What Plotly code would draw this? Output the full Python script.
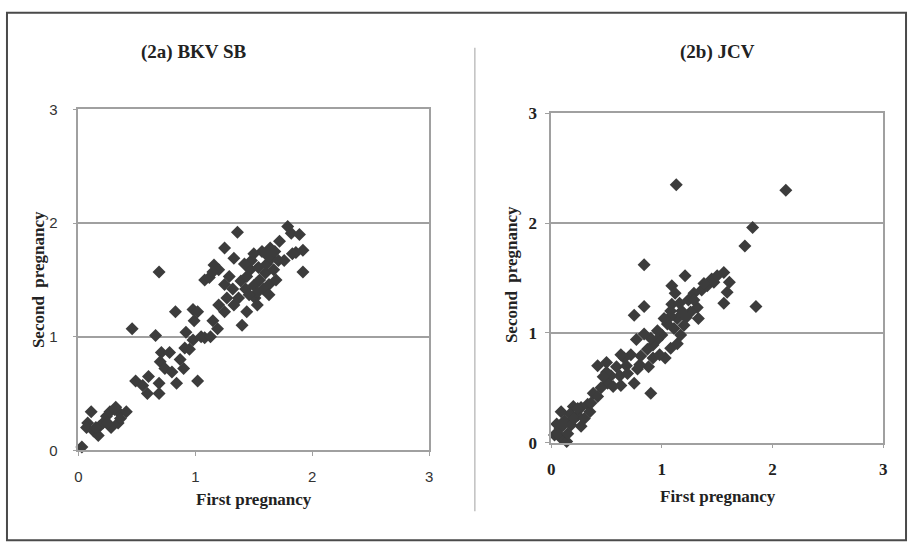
import plotly.graph_objects as go

# (2a) BKV SB
bkv_first = [0.03, 0.11, 0.08, 0.07, 0.13, 0.17, 0.18, 0.21, 0.24, 0.27, 0.31, 0.35, 0.41, 0.34, 0.28, 0.36, 0.25, 0.15, 0.32,
             0.46, 0.49, 0.55, 0.59, 0.60, 0.69, 0.69, 0.66, 0.69, 0.71, 0.70, 0.74, 0.78, 0.80, 0.84, 0.83, 0.87, 0.90, 0.91,
             0.92, 0.95, 0.98, 0.99, 0.98, 1.02, 1.02, 1.05, 1.08, 1.13, 1.15, 1.19, 1.08, 1.12, 1.16, 1.20, 1.25, 1.25, 1.20,
             1.25, 1.27, 1.29, 1.32, 1.33, 1.36, 1.33, 1.37, 1.40, 1.39, 1.43, 1.44, 1.44, 1.47, 1.48, 1.50, 1.51, 1.53, 1.54,
             1.55, 1.57, 1.58, 1.60, 1.61, 1.63, 1.64, 1.65, 1.67, 1.68, 1.69, 1.71, 1.72, 1.76, 1.79, 1.82, 1.86, 1.89, 1.92,
             1.92, 1.83, 1.53, 1.63, 1.46, 1.15, 1.50, 1.61, 1.42]
bkv_second = [0.03, 0.34, 0.24, 0.20, 0.17, 0.13, 0.21, 0.24, 0.30, 0.34, 0.36, 0.33, 0.34, 0.24, 0.20, 0.28, 0.24, 0.20, 0.38,
              1.07, 0.61, 0.57, 0.50, 0.65, 0.59, 0.50, 1.01, 1.57, 0.86, 0.78, 0.72, 0.86, 0.69, 0.59, 1.22, 0.80, 0.72, 0.90,
              1.04, 0.89, 0.97, 1.14, 1.24, 0.61, 1.22, 1.00, 0.99, 1.00, 1.14, 1.07, 1.50, 1.52, 1.63, 1.59, 1.78, 1.46, 1.28,
              1.22, 1.34, 1.53, 1.42, 1.69, 1.92, 1.28, 1.34, 1.10, 1.49, 1.42, 1.22, 1.53, 1.59, 1.67, 1.45, 1.34, 1.28, 1.61,
              1.50, 1.75, 1.42, 1.56, 1.64, 1.46, 1.78, 1.69, 1.59, 1.75, 1.50, 1.67, 1.84, 1.67, 1.97, 1.91, 1.74, 1.90, 1.76,
              1.57, 1.73, 1.39, 1.37, 1.37, 1.57, 1.73, 1.72, 1.64]

# (2b) JCV
jcv_first = [1.13, 2.12, 1.82, 1.75, 0.84, 1.21, 1.56, 1.61, 1.59, 1.56, 1.85, 1.09, 1.12, 0.84, 0.75, 1.09, 1.45, 1.41, 1.36,
             1.29, 1.24, 1.32, 1.33, 1.26, 1.18, 1.14, 1.08, 1.05, 1.11, 1.20, 1.17, 1.14, 1.08, 1.03, 1.00, 0.96, 0.92, 0.90,
             0.84, 0.77, 0.87, 0.92, 0.90, 0.88, 0.80, 0.78, 0.75, 0.72, 0.66, 0.63, 0.68, 0.62, 0.63, 0.59, 0.54, 0.50, 0.42,
             0.50, 0.51, 0.56, 0.45, 0.38, 0.42, 0.33, 0.35, 0.27, 0.24, 0.27, 0.20, 0.17, 0.09, 0.12, 0.18, 0.08, 0.03, 0.09,
             0.14, 0.06, 0.15, 0.21, 0.30, 0.11, 0.05, 0.24, 0.36, 0.98, 1.22, 1.47, 1.50, 1.38, 1.29, 1.16, 1.08, 1.02, 0.96,
             0.81, 0.69, 0.47]
jcv_second = [2.35, 2.30, 1.96, 1.79, 1.62, 1.52, 1.55, 1.46, 1.37, 1.27, 1.24, 1.43, 1.36, 1.24, 1.16, 1.26, 1.49, 1.43, 1.39,
              1.36, 1.30, 1.23, 1.13, 1.19, 1.20, 1.13, 1.15, 1.08, 1.04, 1.07, 0.98, 0.90, 0.86, 0.77, 0.98, 0.94, 0.89, 0.95,
              0.99, 0.94, 0.85, 0.77, 0.45, 0.69, 0.71, 0.67, 0.54, 0.80, 0.77, 0.80, 0.70, 0.61, 0.52, 0.69, 0.61, 0.73, 0.70,
              0.64, 0.54, 0.51, 0.50, 0.45, 0.42, 0.35, 0.28, 0.32, 0.25, 0.15, 0.33, 0.26, 0.28, 0.20, 0.16, 0.13, 0.07, 0.04,
              0.01, 0.08, 0.08, 0.22, 0.22, 0.16, 0.17, 0.31, 0.36, 0.80, 1.14, 1.46, 1.52, 1.45, 1.30, 1.27, 1.20, 1.13, 1.02,
              0.79, 0.63, 0.60]

tick_vals = [0, 1, 2, 3]
tick_text = ["0", "1", "2", "3"]

W, H = 913, 554
marker = dict(symbol="diamond", size=10, color="#3c3c3c", line=dict(width=0))

fig = go.Figure()
fig.add_trace(go.Scatter(x=bkv_first, y=bkv_second, mode="markers", marker=marker,
                         xaxis="x", yaxis="y", cliponaxis=False, showlegend=False))
fig.add_trace(go.Scatter(x=jcv_first, y=jcv_second, mode="markers", marker=marker,
                         xaxis="x2", yaxis="y2", cliponaxis=False, showlegend=False))

def px_x(p):
    return p / W

def px_y(p):
    return 1 - p / H

grid = "#a0a0a0"
common = dict(range=[0, 3], tickvals=tick_vals, ticktext=tick_text, showline=True, mirror=True,
              linecolor=grid, linewidth=1.5, ticks="outside", ticklen=4, tickcolor=grid,
              zeroline=False, fixedrange=True)
left_font = dict(family="Liberation Sans", size=15, color="#333333")
right_font = dict(family="Liberation Serif", size=17, color="#222222", weight="bold")

fig.update_layout(
    width=W, height=H, margin=dict(l=0, r=0, t=0, b=0),
    paper_bgcolor="white", plot_bgcolor="white",
    xaxis=dict(domain=[px_x(75), px_x(429)], anchor="y", showgrid=False, tickfont=left_font,
               ticklabelstandoff=8, **common),
    yaxis=dict(domain=[px_y(457), px_y(104)], anchor="x", showgrid=True, gridcolor=grid, gridwidth=1.5,
               tickfont=left_font, ticklabelstandoff=12, **common),
    xaxis2=dict(domain=[px_x(552), px_x(887)], anchor="y2", showgrid=False, tickfont=right_font,
                ticklabelstandoff=6, **common),
    yaxis2=dict(domain=[px_y(449), px_y(108)], anchor="x2", showgrid=True, gridcolor=grid, gridwidth=1.5,
                tickfont=right_font, ticklabelstandoff=5, **common),
)

title_font = dict(family="Liberation Serif", size=19, color="#222222", weight="bold")
axis_font = dict(family="Liberation Serif", size=17, color="#222222", weight="bold")
ann = [
    dict(text="(2a) BKV SB", x=px_x(192), y=px_y(45), font=title_font),
    dict(text="(2b) JCV", x=px_x(720), y=px_y(45), font=title_font),
    dict(text="First pregnancy", x=px_x(252), y=px_y(508), font=axis_font),
    dict(text="First pregnancy", x=px_x(720), y=px_y(505), font=axis_font),
    dict(text="Second  pregnancy", x=px_x(35), y=px_y(280), font=axis_font, textangle=-90),
    dict(text="Second  pregnancy", x=px_x(512), y=px_y(275), font=axis_font, textangle=-90),
]
for a in ann:
    a.update(xref="paper", yref="paper", showarrow=False, xanchor="center", yanchor="middle")
fig.update_layout(annotations=ann)

fig.update_layout(shapes=[
    dict(type="rect", xref="paper", yref="paper", x0=px_x(3), x1=px_x(910), y0=px_y(550), y1=px_y(4),
         line=dict(color="#4a4a4a", width=2)),
    dict(type="line", xref="paper", yref="paper", x0=px_x(475), x1=px_x(475), y0=px_y(520), y1=px_y(40),
         line=dict(color="#c0c0c0", width=1.5)),
])

fig.write_html("out.html")
